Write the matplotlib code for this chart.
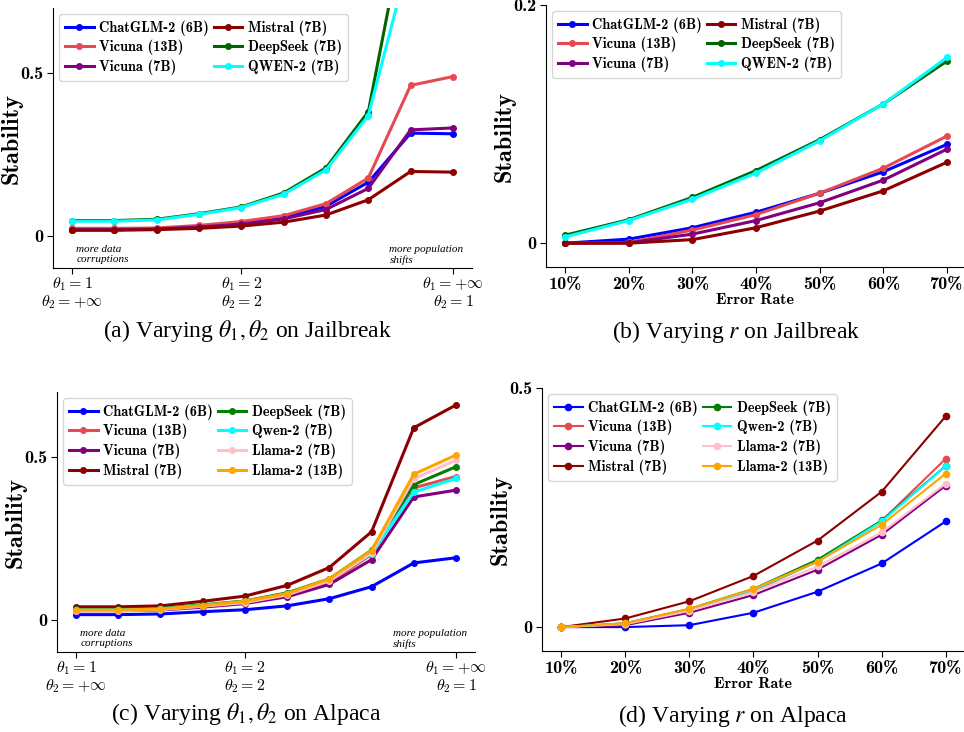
import numpy as np
import matplotlib
matplotlib.use("Agg")
import matplotlib.pyplot as plt

plt.rcParams['axes.unicode_minus'] = False
plt.rcParams['mathtext.fontset'] = 'cm'

#===============================================================================
# DATA
#===============================================================================

THETA_LABELS = [r'$\theta_\mathbf{1} = \mathbf{1}$' + '\n' + r'$\theta_\mathbf{2} = +\infty$',
                r'$\theta_\mathbf{1} = \mathbf{2}$' + '\n' + r'$\theta_\mathbf{2} = \mathbf{2}$',
                r'$\theta_\mathbf{1} = +\infty$' + '\n' + r'$\theta_\mathbf{2} = \mathbf{1}$']
THETA_TICKS = [0, 4, 9]
ERROR_RATES = ["10%", "20%", "30%", "40%", "50%", "60%", "70%"]

# (a) varying theta on Jailbreak
jb_theta = {
    "ChatGLM-2 (6B)": [0.018, 0.018, 0.020, 0.026, 0.034, 0.054, 0.090, 0.164, 0.315, 0.313],
    "Vicuna (13B)":   [0.022, 0.022, 0.023, 0.031, 0.043, 0.061, 0.098, 0.177, 0.462, 0.489],
    "Vicuna (7B)":    [0.018, 0.018, 0.020, 0.026, 0.035, 0.051, 0.080, 0.145, 0.325, 0.331],
    "Mistral (7B)":   [0.016, 0.016, 0.018, 0.022, 0.029, 0.041, 0.063, 0.110, 0.197, 0.195],
    "DeepSeek (7B)":  [0.046, 0.046, 0.050, 0.067, 0.088, 0.131, 0.208, 0.381, 1.05, 1.10],
    "QWEN-2 (7B)":    [0.044, 0.044, 0.048, 0.065, 0.086, 0.127, 0.202, 0.369, 0.87, 0.92],
}

# (b) varying r on Jailbreak
jb_rate = {
    "ChatGLM-2 (6B)": [0.0, 0.0034, 0.013, 0.026, 0.042, 0.060, 0.083],
    "Vicuna (13B)":   [0.0, 0.0006, 0.011, 0.024, 0.042, 0.063, 0.090],
    "Vicuna (7B)":    [0.0, 0.0003, 0.0076, 0.019, 0.034, 0.053, 0.079],
    "Mistral (7B)":   [0.0, 0.0, 0.003, 0.013, 0.027, 0.044, 0.068],
    "DeepSeek (7B)":  [0.0067, 0.0197, 0.0385, 0.061, 0.087, 0.117, 0.153],
    "QWEN-2 (7B)":    [0.0053, 0.019, 0.037, 0.059, 0.086, 0.117, 0.156],
}

# (c) varying theta on Alpaca
al_theta = {
    "ChatGLM-2 (6B)": [0.015, 0.015, 0.017, 0.024, 0.030, 0.042, 0.064, 0.101, 0.174, 0.190],
    "Vicuna (13B)":   [0.029, 0.029, 0.031, 0.041, 0.053, 0.074, 0.115, 0.200, 0.405, 0.440],
    "Vicuna (7B)":    [0.027, 0.027, 0.029, 0.038, 0.049, 0.070, 0.108, 0.184, 0.377, 0.398],
    "Mistral (7B)":   [0.039, 0.039, 0.042, 0.056, 0.072, 0.105, 0.160, 0.270, 0.590, 0.660],
    "DeepSeek (7B)":  [0.031, 0.031, 0.034, 0.045, 0.057, 0.082, 0.125, 0.213, 0.415, 0.470],
    "Qwen-2 (7B)":    [0.029, 0.029, 0.032, 0.043, 0.055, 0.078, 0.121, 0.203, 0.392, 0.434],
    "Llama-2 (7B)":   [0.027, 0.027, 0.030, 0.041, 0.052, 0.076, 0.119, 0.205, 0.433, 0.490],
    "Llama-2 (13B)":  [0.029, 0.029, 0.032, 0.043, 0.056, 0.080, 0.125, 0.212, 0.447, 0.506],
}

# (d) varying r on Alpaca
al_rate = {
    "ChatGLM-2 (6B)": [0.0, 0.0, 0.004, 0.030, 0.074, 0.133, 0.221],
    "Vicuna (13B)":   [0.0, 0.006, 0.034, 0.076, 0.137, 0.222, 0.352],
    "Vicuna (7B)":    [0.0, 0.004, 0.030, 0.067, 0.120, 0.193, 0.296],
    "Mistral (7B)":   [0.0, 0.018, 0.054, 0.107, 0.181, 0.283, 0.441],
    "DeepSeek (7B)":  [0.0, 0.008, 0.038, 0.080, 0.141, 0.223, 0.337],
    "Qwen-2 (7B)":    [0.0, 0.007, 0.036, 0.078, 0.137, 0.221, 0.337],
    "Llama-2 (7B)":   [0.0, 0.006, 0.034, 0.073, 0.127, 0.198, 0.300],
    "Llama-2 (13B)":  [0.0, 0.008, 0.038, 0.080, 0.137, 0.214, 0.321],
}

COLORS_JB = ["#0000ff", "#e64a50", "#800080", "#8b0000", "#006400", "#00ffff"]
COLORS_AL = ["#0000ff", "#e64a50", "#800080", "#8b0000", "#008000", "#00ffff",
             "#ffc0cb", "#ffa500"]

BOLD = "cmb10"
TICK_FS = 13
LEG_FS = 10.3


#===============================================================================
# HELPERS
#===============================================================================

def draw(ax, data, colors, lw, ms, xticks, xticklabels, xlim, ylim, yticks,
         yticklabels):
    for (name, vals), c in zip(data.items(), colors):
        ax.plot(np.arange(len(vals)), vals, color=c, lw=lw, marker="o",
                ms=ms, label=name)
    ax.set_xlim(*xlim)
    ax.set_ylim(*ylim)
    ax.set_xticks(xticks)
    ax.set_xticklabels(xticklabels)
    ax.set_yticks(yticks)
    ax.set_yticklabels(yticklabels, fontfamily=BOLD, fontsize=TICK_FS)
    ax.spines["top"].set_visible(False)
    ax.spines["right"].set_visible(False)
    ax.tick_params(length=4, width=0.8, pad=3)
    ax.set_ylabel("Stability", fontfamily=BOLD, fontsize=17.5)
    ax.yaxis.set_label_coords(-0.072, 0.5)
    ax.legend(loc="upper left", ncol=2, prop={"family": BOLD, "size": LEG_FS},
              columnspacing=0.3, handletextpad=0.4, labelspacing=0.3,
              borderaxespad=0.45, borderpad=0.4, handlelength=2.0)


def notes(ax):
    kw = dict(fontfamily="Liberation Serif", style="italic", fontsize=8,
              va="top", ha="left", linespacing=1.1)
    ax.text(0.1, -0.03, "more data\ncorruptions", **kw)
    ax.text(7.5, -0.03, "more population\nshifts", **kw)


def theta_ticks(ax):
    ax.tick_params(axis="x", pad=1.5)
    for t in ax.get_xticklabels():
        t.set_fontsize(11.5)
        t.set_linespacing(1.0)


def rate_ticks(ax):
    for t in ax.get_xticklabels():
        t.set_fontfamily(BOLD)
        t.set_fontsize(TICK_FS)
    ax.set_xlabel("Error Rate", fontfamily=BOLD, fontsize=11.5, labelpad=1)


W, H = 964.0, 732.0

def rect(l, t, r, b):
    return [l / W, (H - b) / H, (r - l) / W, (b - t) / H]


fig = plt.figure(figsize=(9.64, 7.32), dpi=100)

#===============================================================================
# (a)
#===============================================================================

ax_a = fig.add_axes(rect(53, 8, 472, 268))
draw(ax_a, jb_theta, COLORS_JB, 2.2, 4, THETA_TICKS, THETA_LABELS,
     (-0.45, 9.45), (-0.1, 0.7), [0, 0.5], ["0", "0.5"])
theta_ticks(ax_a)
notes(ax_a)

#===============================================================================
# (b)
#===============================================================================

ax_b = fig.add_axes(rect(546, 5, 963, 267))
draw(ax_b, jb_rate, COLORS_JB, 2.2, 4, range(7), ERROR_RATES,
     (-0.3, 6.25), (-0.02, 0.2), [0, 0.2], ["0", "0.2"])
rate_ticks(ax_b)

#===============================================================================
# (c)
#===============================================================================

ax_c = fig.add_axes(rect(57, 392, 475, 652))
draw(ax_c, al_theta, COLORS_AL, 2.2, 4, THETA_TICKS, THETA_LABELS,
     (-0.45, 9.45), (-0.1, 0.7), [0, 0.5], ["0", "0.5"])
theta_ticks(ax_c)
notes(ax_c)

#===============================================================================
# (d)
#===============================================================================

ax_d = fig.add_axes(rect(542, 388, 963, 651))
draw(ax_d, al_rate, COLORS_AL, 1.5, 4.5, range(7), ERROR_RATES,
     (-0.3, 6.27), (-0.05, 0.5), [0, 0.5], ["0", "0.5"])
rate_ticks(ax_d)

#===============================================================================
# CAPTIONS
#===============================================================================

cap = dict(fontfamily="Liberation Serif", fontsize=17, ha="center",
           va="center", math_fontfamily="stix")
fig.text(247 / W, 1 - 331 / H, r"(a) Varying $\theta_1, \theta_2$ on Jailbreak", **cap)
fig.text(736 / W, 1 - 332 / H, r"(b) Varying $r$ on Jailbreak", **cap)
fig.text(246 / W, 1 - 714 / H, r"(c) Varying $\theta_1, \theta_2$ on Alpaca", **cap)
fig.text(733 / W, 1 - 716 / H, r"(d) Varying $r$ on Alpaca", **cap)

fig.savefig("out.png", dpi=100)
